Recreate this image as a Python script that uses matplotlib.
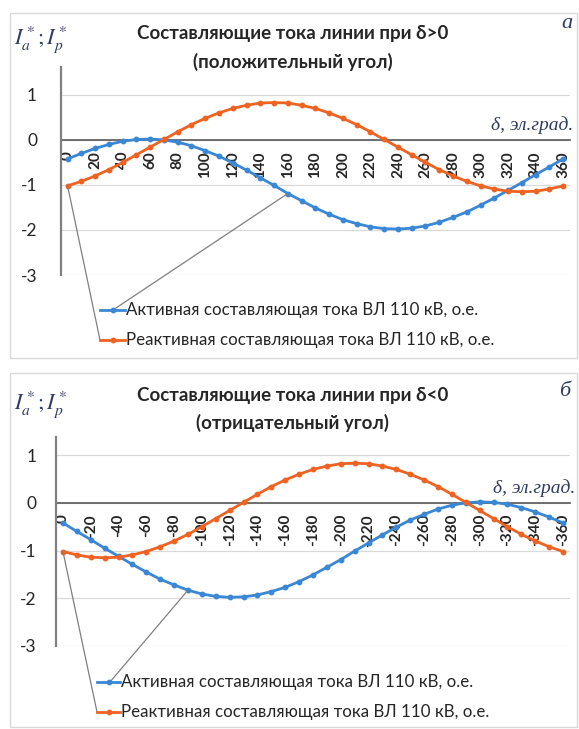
import matplotlib
matplotlib.use('Agg')
import matplotlib.pyplot as plt
from matplotlib.lines import Line2D
from matplotlib.patches import Rectangle

W, H = 579, 729

# angle, el. degrees (category axis)
delta_pos = list(range(0, 361, 10))
delta_neg = [-d for d in delta_pos]

# delta > 0
ia_pos = [-0.42, -0.30, -0.19, -0.10, -0.03, 0.01, 0.02, 0.00, -0.05, -0.13,
          -0.24, -0.36, -0.51, -0.67, -0.84, -1.01, -1.19, -1.35, -1.51, -1.65,
          -1.77, -1.86, -1.93, -1.97, -1.98, -1.96, -1.91, -1.83, -1.72, -1.60,
          -1.45, -1.29, -1.12, -0.95, -0.77, -0.60, -0.42]
ip_pos = [-1.02, -0.92, -0.80, -0.66, -0.50, -0.33, -0.16, 0.01, 0.18, 0.34,
          0.48, 0.60, 0.70, 0.77, 0.82, 0.83, 0.82, 0.77, 0.70, 0.60,
          0.48, 0.34, 0.18, 0.01, -0.16, -0.33, -0.50, -0.66, -0.80, -0.92,
          -1.02, -1.09, -1.14, -1.15, -1.14, -1.09, -1.02]

# delta < 0
ia_neg = [-0.42, -0.60, -0.77, -0.95, -1.12, -1.29, -1.45, -1.60, -1.72, -1.83,
          -1.91, -1.96, -1.98, -1.97, -1.93, -1.86, -1.77, -1.65, -1.51, -1.35,
          -1.19, -1.01, -0.84, -0.67, -0.51, -0.36, -0.24, -0.13, -0.05, 0.00,
          0.02, 0.01, -0.03, -0.10, -0.19, -0.30, -0.42]
ip_neg = [-1.02, -1.09, -1.14, -1.15, -1.14, -1.09, -1.02, -0.92, -0.80, -0.66,
          -0.50, -0.33, -0.16, 0.01, 0.18, 0.34, 0.48, 0.60, 0.70, 0.77,
          0.82, 0.83, 0.82, 0.77, 0.70, 0.60, 0.48, 0.34, 0.18, 0.01,
          -0.16, -0.33, -0.50, -0.66, -0.80, -0.92, -1.02]

xticks_pos = list(range(0, 361, 20))
xlabels_pos = [str(t) for t in xticks_pos]
xticks_neg = [-t for t in xticks_pos]
xlabels_neg = ['0'] + ['-' + str(t) for t in xticks_pos[1:]]
yticks = [1, 0, -1, -2, -3]

label_a = 'Активная составляющая тока ВЛ 110 кВ, о.е.'
label_p = 'Реактивная составляющая тока ВЛ 110 кВ, о.е.'

BLUE = '#3A87D5'
ORANGE = '#EE6322'
GREY = '#808080'
NAVY = '#2E3B63'

plt.rcParams['mathtext.fontset'] = 'stix'
plt.rcParams['font.family'] = ['Lato', 'DejaVu Sans']

fig = plt.figure(figsize=(W / 100, H / 100), dpi=100)


def fx(x):
    return x / W


def fy(y):
    return 1 - y / H


def panel(x, ia, ip, ticks, ticklabels, p):
    # frame of the excel chart
    x0, y0, x1, y1 = p['frame']
    fig.add_artist(Rectangle((fx(x0), fy(y1)), fx(x1 - x0), (y1 - y0) / H,
                             transform=fig.transFigure, fill=False,
                             edgecolor='#D9D9D9', lw=1))

    left, right, top, bottom = p['axes']
    ax = fig.add_axes([fx(left), fy(bottom), (right - left) / W, (bottom - top) / H])
    ax.set_facecolor('none')

    for s in ['top', 'right']:
        ax.spines[s].set_visible(False)
    ax.spines['bottom'].set_position(('data', 0))
    ax.spines['bottom'].set_color('#595959')
    ax.spines['bottom'].set_linewidth(1.2)
    ax.spines['bottom'].set_zorder(2)
    ax.spines['left'].set_color('#808080')
    ax.spines['left'].set_linewidth(1.6)

    ax.plot(x, ia, color=BLUE, lw=2, marker='o', ms=3.2, zorder=3)
    ax.plot(x, ip, color=ORANGE, lw=2, marker='o', ms=3.2, zorder=3)

    ax.set_xlim(p['xlim'])
    ax.set_ylim(-3, p['ymax'])
    ax.set_yticks(yticks)
    ax.set_yticklabels([str(t) for t in yticks], fontsize=12.5, color='#262626')
    ax.set_xticks(ticks)
    ax.set_xticklabels(ticklabels, rotation=90, fontsize=11, fontweight='bold',
                       color='#262626')
    ax.tick_params(axis='y', length=0, pad=p['ypad'])
    ax.tick_params(axis='x', length=0, pad=8)
    ax.grid(axis='y', color='#D9D9D9', lw=0.9)
    ax.set_axisbelow(True)

    # titles and captions
    fig.text(fx(293), fy(p['title'][0]), p['t1'], ha='center', va='center',
             fontsize=13.5, fontweight='bold', color='#262626')
    fig.text(fx(293), fy(p['title'][1]), p['t2'], ha='center', va='center',
             fontsize=13.5, fontweight='bold', color='#262626')
    fig.text(fx(41), fy(p['ylab']), r'$I_a^*;I_p^*$', ha='center', va='center',
             fontsize=16, color=NAVY)
    fig.text(fx(p['letter'][0]), fy(p['letter'][1]), p['letter'][2], ha='center',
             va='center', fontsize=16, style='italic', family='Liberation Serif',
             color=NAVY)
    fig.text(fx(p['dlab'][0]), fy(p['dlab'][1]), 'δ, эл.град.', ha='right',
             va='center', fontsize=14, style='italic', family='Liberation Serif',
             color=NAVY)

    # legend with leader lines
    lx0, lx1, ya, yp = p['legend']
    for yy, col, txt in [(ya, BLUE, label_a), (yp, ORANGE, label_p)]:
        fig.add_artist(Line2D([fx(lx0), fx(lx1)], [fy(yy), fy(yy)],
                              transform=fig.transFigure, color=col, lw=2))
        fig.add_artist(Line2D([fx((lx0 + lx1) / 2)], [fy(yy)], marker='o', ms=3.2,
                              transform=fig.transFigure, color=col))
        fig.text(fx(lx1 + 1), fy(yy), txt, ha='left', va='center', fontsize=12.2,
                 color='#262626')

    for xy, end in p['leaders']:
        ax.annotate('', xy=xy, xycoords='data', xytext=(fx(end[0]), fy(end[1])),
                    textcoords='figure fraction',
                    arrowprops=dict(arrowstyle='-', color=GREY, lw=0.9,
                                    shrinkA=0, shrinkB=0))
    return ax


panel(delta_pos, ia_pos, ip_pos, xticks_pos, xlabels_pos, {
    'frame': (10, 13, 577, 358),
    'axes': (60.7, 570, 67, 275),
    'xlim': (-5, 365),
    'ymax': 1.62,
    'ypad': 17,
    'title': (33, 62),
    't1': 'Составляющие тока линии при δ>0',
    't2': '(положительный угол)',
    'ylab': 40,
    'letter': (567, 23, 'а'),
    'dlab': (573, 125),
    'legend': (100, 125, 310, 340),
    'leaders': [((delta_pos[16], ia_pos[16]), (113, 310)),
                ((delta_pos[0], ip_pos[0]), (100, 340))],
})

panel(delta_neg, ia_neg, ip_neg, xticks_neg, xlabels_neg, {
    'frame': (10, 373, 577, 727),
    'axes': (56, 570, 437, 646),
    'xlim': (5, -365),
    'ymax': 1.38,
    'ypad': 14,
    'title': (395, 423),
    't1': 'Составляющие тока линии при δ<0',
    't2': '(отрицательный угол)',
    'ylab': 405,
    'letter': (565, 392, 'б'),
    'dlab': (575, 488),
    'legend': (97, 120, 682, 712),
    'leaders': [((delta_neg[9], ia_neg[9]), (110, 682)),
                ((delta_neg[0], ip_neg[0]), (97, 712))],
})

fig.savefig('out.png', dpi=100)
